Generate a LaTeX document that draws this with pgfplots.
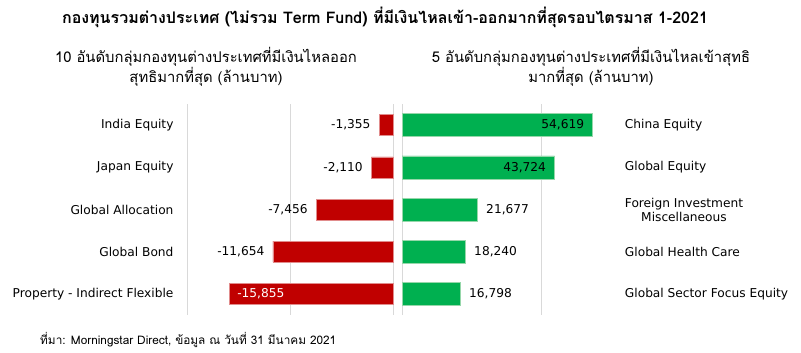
\documentclass[border=0pt]{standalone}
\usepackage{fontspec}
\setmainfont{DejaVu Sans}
\newfontfamily\thaifont[Script=Thai]{Loma}
\usepackage{pgfplots}
\pgfplotsset{compat=1.18}
\definecolor{barred}{HTML}{C00000}
\definecolor{bargreen}{HTML}{00B050}
\definecolor{gridgray}{HTML}{D9D9D9}
\newcommand{\lbl}{\fontsize{12.2}{14}\selectfont}
\pgfplotsset{
  side/.style={
    anchor=south west, scale only axis, height=211pt,
    ymin=-0.5, ymax=4.5, y dir=reverse,
    xbar, bar shift=0pt,
    axis line style={draw=none},
    scaled x ticks=false,
    xticklabels={}, xmajorgrids,
    major grid style={draw=gridgray, line width=0.8pt},
    ytick={0,1,2,3,4}, major tick length=0,
    yticklabel style={font=\lbl, text=black},
    point meta=x,
    /pgf/number format/assume math mode=true,
    /pgf/number format/1000 sep={,},
    /pgf/number format/fixed, /pgf/number format/precision=0,
    nodes near coords={\pgfmathprintnumber{\pgfplotspointmeta}},
    clip=false,
  }
}
\begin{document}
\begin{tikzpicture}
\path[use as bounding box] (0pt,0pt) rectangle (801pt,353pt);
% title
\node[font=\thaifont\bfseries\fontsize{16}{18}\selectfont] at (385pt,336pt)
  {กองทุนรวมต่างประเทศ (ไม่รวม Term Fund) ที่มีเงินไหลเข้า-ออกมากที่สุดรอบไตรมาส 1-2021};
\node[font=\thaifont\fontsize{14.8}{18}\selectfont, align=center] at (206pt,286pt)
  {10 อันดับกลุ่มกองทุนต่างประเทศที่มีเงินไหลออก\\สุทธิมากที่สุด (ล้านบาท)};
\node[font=\thaifont\fontsize{14.8}{18}\selectfont, align=center] at (591pt,286pt)
  {5 อันดับกลุ่มกองทุนต่างประเทศที่มีเงินไหลเข้าสุทธิ\\มากที่สุด (ล้านบาท)};
\node[font=\thaifont\fontsize{11.8}{14}\selectfont, anchor=west, inner sep=0pt] at (40pt,13pt)
  {ที่มา: Morningstar Direct, ข้อมูล ณ วันที่ 31 มีนาคม 2021};
% left axis
\begin{axis}[side, at={(187pt,38pt)}, width=206pt,
  xmin=-20000, xmax=0, xtick={-20000,-10000,0},
  bar width=21pt,
  yticklabels={India Equity, Japan Equity, Global Allocation, Global Bond, Property - Indirect Flexible},
  yticklabel style={anchor=east, xshift=-10pt}]
\addplot[fill=barred, draw={rgb,255:red,225;green,140;blue,140}, line width=0.5pt,
  nodes near coords style={font=\lbl, text=black, anchor=east, xshift=-5pt}]
  coordinates {(-1355,0) (-2110,1) (-7456,2) (-11654,3)};
\addplot[fill=barred, draw={rgb,255:red,225;green,140;blue,140}, line width=0.5pt,
  nodes near coords style={font=\lbl, text=white, anchor=west, xshift=4pt}]
  coordinates {(-15855,4)};
\end{axis}
% right axis
\begin{axis}[side, at={(402pt,38pt)}, width=209.4pt,
  xmin=0, xmax=60000, xtick={0,40000},
  bar width=23pt,
  yticklabel pos=right,
  yticklabels={China Equity, Global Equity, {Foreign Investment\\Miscellaneous}, Global Health Care, Global Sector Focus Equity},
  yticklabel style={anchor=west, align=center, xshift=10pt}]
\addplot[fill=bargreen, draw={rgb,255:red,150;green,215;blue,170}, line width=0.5pt,
  nodes near coords style={font=\lbl, text=black, anchor=east, xshift=-5pt}]
  coordinates {(54619,0) (43724,1)};
\addplot[fill=bargreen, draw={rgb,255:red,150;green,215;blue,170}, line width=0.5pt,
  nodes near coords style={font=\lbl, text=black, anchor=west, xshift=5pt}]
  coordinates {(21677,2) (18240,3) (16798,4)};
\end{axis}
\end{tikzpicture}
\end{document}
